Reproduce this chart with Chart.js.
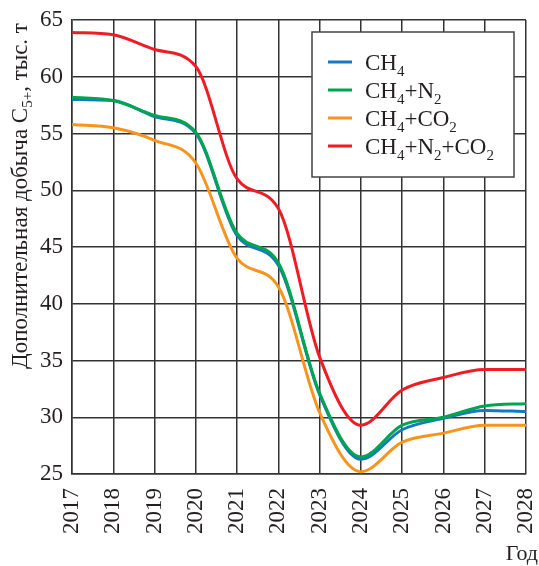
<!DOCTYPE html>
<html>
<head>
<meta charset="utf-8">
<script src="https://cdn.jsdelivr.net/npm/chart.js@4"></script>
<style>
html,body{margin:0;padding:0;background:#fff;}
#wrap{width:539px;height:566px;position:relative;}
</style>
</head>
<body>
<div id="wrap"><canvas id="c" width="539" height="566"></canvas></div>
<script>
const years = ['2017','2018','2019','2020','2021','2022','2023','2024','2025','2026','2027','2028'];
const ch4      = [58.0, 57.9, 56.5, 55.0, 46.0, 43.4, 32.0, 26.3, 28.9, 29.9, 30.6, 30.5];
const ch4n2    = [58.2, 57.9, 56.6, 55.1, 46.2, 43.6, 32.1, 26.5, 29.3, 30.0, 31.0, 31.2];
const ch4co2   = [55.8, 55.5, 54.4, 52.4, 44.0, 41.5, 30.4, 25.2, 27.8, 28.6, 29.3, 29.3];
const ch4n2co2 = [63.9, 63.7, 62.4, 60.9, 51.0, 48.4, 35.3, 29.3, 32.4, 33.5, 34.2, 34.2];
const yTicks = [25, 30, 35, 40, 45, 50, 55, 60, 65];

const seriesNames = [
  [['CH',0],['4',1]],
  [['CH',0],['4',1],['+N',0],['2',1]],
  [['CH',0],['4',1],['+CO',0],['2',1]],
  [['CH',0],['4',1],['+N',0],['2',1],['+CO',0],['2',1]]
];
const colors = ['#1479c4', '#00a451', '#f7941d', '#ee1c25'];

const SERIF = '"Liberation Serif"';
const gridColor = '#333333';

function drawRich(ctx, parts, x, y, size, subSize, subDy) {
  let cx = x;
  for (const [t, sub] of parts) {
    ctx.font = (sub ? subSize : size) + 'px ' + SERIF;
    ctx.fillText(t, cx, y + (sub ? subDy : 0));
    cx += ctx.measureText(t).width;
  }
  return cx;
}
function richWidth(ctx, parts, size, subSize) {
  let w = 0;
  for (const [t, sub] of parts) {
    ctx.font = (sub ? subSize : size) + 'px ' + SERIF;
    w += ctx.measureText(t).width;
  }
  return w;
}

const decor = {
  id: 'decor',
  afterDraw(chart) {
    const ctx = chart.ctx;
    ctx.save();
    // Legend box
    const lx = 312, ly = 32, lw = 202, lh = 145;
    ctx.fillStyle = '#fff';
    ctx.fillRect(lx, ly, lw, lh);
    ctx.strokeStyle = '#444';
    ctx.lineWidth = 1.5;
    ctx.strokeRect(lx, ly, lw, lh);
    ctx.textBaseline = 'alphabetic';
    ctx.textAlign = 'left';
    for (let i = 0; i < 4; i++) {
      const ry = 62 + i * 28;
      ctx.strokeStyle = colors[i];
      ctx.lineWidth = 3;
      ctx.beginPath();
      ctx.moveTo(328, ry);
      ctx.lineTo(352, ry);
      ctx.stroke();
      ctx.fillStyle = '#231f20';
      drawRich(ctx, seriesNames[i], 365, ry + 8, 23, 15, 6);
    }
    // Y-axis title (rotated)
    const titleParts = [['Дополнительная добыча C',0],['5+',1],[', тыс. т',0]];
    ctx.save();
    ctx.translate(27, 196);
    ctx.rotate(-Math.PI / 2);
    ctx.fillStyle = '#231f20';
    const tw = richWidth(ctx, titleParts, 23, 15);
    drawRich(ctx, titleParts, -tw / 2, 0, 23, 15, 5);
    ctx.restore();
    // X-axis title
    ctx.font = '22px ' + SERIF;
    ctx.fillStyle = '#231f20';
    ctx.textAlign = 'right';
    ctx.fillText('Год', 538, 560);
    ctx.restore();
  }
};

const ds = (label, data, color, order) => ({
  label, data, borderColor: color, backgroundColor: color,
  borderWidth: 3, pointRadius: 0, fill: false,
  cubicInterpolationMode: 'monotone', order
});

function build() {
  new Chart(document.getElementById('c'), {
    type: 'line',
    data: {
      labels: years,
      datasets: [
        ds('CH4', ch4, colors[0], 4),
        ds('CH4+N2', ch4n2, colors[1], 3),
        ds('CH4+CO2', ch4co2, colors[2], 2),
        ds('CH4+N2+CO2', ch4n2co2, colors[3], 1)
      ]
    },
    options: {
      responsive: false,
      animation: false,
      devicePixelRatio: 1,
      layout: { padding: { top: 20, right: 13, bottom: 0, left: 0 } },
      plugins: { legend: { display: false }, tooltip: { enabled: false } },
      scales: {
        x: {
          offset: false,
          grid: { color: gridColor, lineWidth: 1.5, drawTicks: false },
          border: { color: gridColor, width: 1.5 },
          ticks: {
            color: '#231f20', font: { family: SERIF, size: 23 },
            minRotation: 90, maxRotation: 90, padding: 14, autoSkip: false
          },
          afterFit(s) { s.height = 92; s.paddingLeft = 0; s.paddingRight = 0; }
        },
        y: {
          min: 25, max: 65,
          afterBuildTicks(s) { s.ticks = yTicks.map(v => ({ value: v })); },
          grid: { color: gridColor, lineWidth: 1.5, drawTicks: false },
          border: { color: gridColor, width: 1.5 },
          ticks: { color: '#231f20', font: { family: SERIF, size: 23 }, padding: 9 },
          afterFit(s) { s.width = 72; s.paddingTop = 0; s.paddingBottom = 0; }
        }
      }
    },
    plugins: [decor]
  });
}
if (document.fonts && document.fonts.load) {
  Promise.all([
    document.fonts.load('22px "Liberation Serif"'),
    document.fonts.load('22px "Liberation Serif"', 'Дополнительная')
  ]).then(build, build);
} else {
  build();
}
</script>
</body>
</html>
